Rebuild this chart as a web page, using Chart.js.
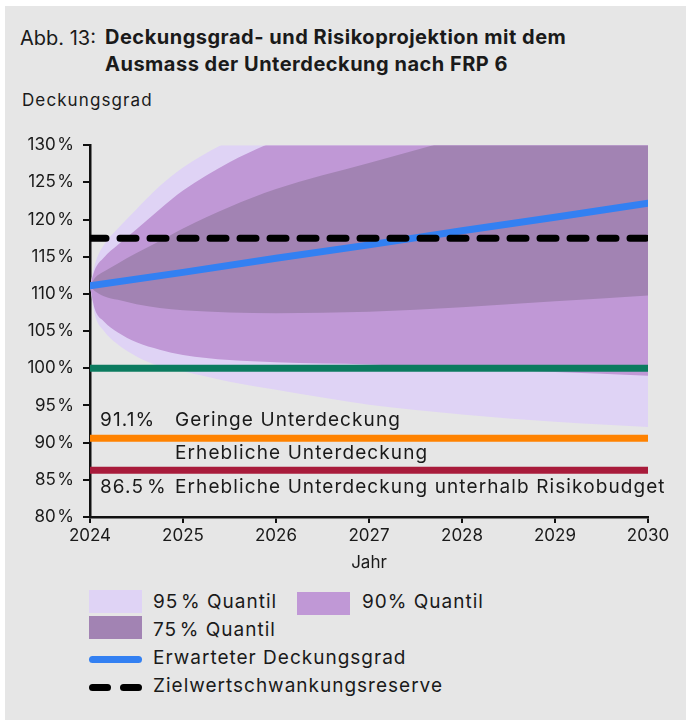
<!DOCTYPE html>
<html lang="de">
<head>
<meta charset="utf-8">
<title>Deckungsgrad- und Risikoprojektion</title>
<script src="https://cdn.jsdelivr.net/npm/chart.js@4.4.1/dist/chart.umd.min.js"></script>
<style>
    body { margin: 0; background: #ffffff; font-family: Inter, "Noto Sans", sans-serif; color: #1a1a1a; }
    #frame { position: absolute; left: 5px; top: 6px; width: 681px; height: 714px; background: #e6e6e6; overflow: hidden; }
    .t-prefix { position: absolute; left: 15px; top: 18px; font-size: 20px; line-height: 28px; }
    .t-main { position: absolute; left: 100px; top: 18px; font-size: 20px; line-height: 27px; font-weight: 700; letter-spacing: 0.5px; }
    .y-title { position: absolute; left: 17px; top: 83px; font-size: 17px; line-height: 22px; letter-spacing: 1.1px; }
    #chartBox { position: absolute; left: 0; top: 120px; width: 681px; height: 460px; }
    .sw { position: absolute; width: 53px; height: 23px; }
    .lg { position: absolute; font-size: 19px; line-height: 24px; white-space: nowrap; letter-spacing: 1px; }
    .ln { position: absolute; height: 7px; border-radius: 4px; }
</style>
</head>
<body>
<div id="frame">
    <div class="t-prefix">Abb. 13:</div>
    <div class="t-main">Deckungsgrad- und Risikoprojektion mit dem<br>Ausmass der Unterdeckung nach FRP 6</div>
    <div class="y-title">Deckungsgrad</div>
    <div id="chartBox"><canvas id="chart"></canvas></div>
    <div id="legend"></div>
</div>
<script>
const years = [2024, 2024.05, 2024.15, 2024.3, 2024.5, 2024.75, 2025, 2025.5, 2026, 2027, 2028, 2029, 2030];

const q95Upper = [111, 113.9, 116.6, 118.8, 121.4, 124.5, 127.0, 130.6, 133.5, 138, 142, 145, 148];
const q95Lower = [111, 107.3, 105.0, 103.2, 101.6, 100.3, 99.6, 98.2, 97.1, 95.1, 93.8, 92.8, 92.1];
const q90Upper = [111, 113.2, 114.9, 116.6, 118.7, 121.4, 123.9, 127.7, 130.6, 135, 138.5, 141.5, 144];
const q90Lower = [111, 108.0, 106.3, 104.8, 103.5, 102.5, 101.8, 101.1, 100.8, 100.5, 100.0, 99.5, 99.0];
const q75Upper = [111, 112.1, 113.0, 114.1, 115.5, 117.1, 118.8, 121.7, 124.1, 127.6, 131, 133.8, 136.5];
const q75Lower = [111, 110.4, 109.7, 109.2, 108.6, 108.1, 107.8, 107.5, 107.4, 107.6, 108.2, 109.0, 109.8];

const expectedYears = [2024, 2025, 2026, 2027, 2028, 2029, 2030];
const expected = [111.1, 112.9, 114.8, 116.6, 118.5, 120.3, 122.2];

const lineYears = [2024, 2030];
const targetReserve = 117.5;
const fullCoverage = 100;
const lowDeficit = 90.6;
const riskBudget = 86.3;

const yTicks = [80, 85, 90, 95, 100, 105, 110, 115, 120, 125, 130];
const xTicks = [2024, 2025, 2026, 2027, 2028, 2029, 2030];

const zoneLabels = [
    { level: 93.0, pct: "91.1%", text: "Geringe Unterdeckung" },
    { level: 88.6, pct: "", text: "Erhebliche Unterdeckung" },
    { level: 84.0, pct: "86.5\u200A%", text: "Erhebliche Unterdeckung unterhalb Risikobudget" }
];

const colors = {
    q95: "#dfd3f5",
    q90: "#c098d6",
    q75: "#a283b3",
    expected: "#3380f2",
    target: "#000000",
    full: "#0b7b5f",
    low: "#ff8200",
    risk: "#a81b3b"
};

function pts(xs, ys) {
    return xs.map((x, i) => ({ x, y: ys[i] }));
}

function flat(value) {
    return lineYears.map((x) => ({ x, y: value }));
}

function band(upper, lower, color, order) {
    return [
        {
            data: pts(years, upper),
            backgroundColor: color,
            borderWidth: 0,
            pointRadius: 0,
            cubicInterpolationMode: "monotone",
            fill: "+1",
            order
        },
        {
            data: pts(years, lower),
            borderWidth: 0,
            pointRadius: 0,
            cubicInterpolationMode: "monotone",
            fill: false,
            order
        }
    ];
}

function refLine(data, color, order, dash) {
    return {
        data,
        borderColor: color,
        borderWidth: 7,
        borderCapStyle: "round",
        borderDash: dash || [],
        pointRadius: 0,
        fill: false,
        order
    };
}

const zoneText = {
    id: "zoneText",
    afterDatasetsDraw(chart) {
        const { ctx, chartArea, scales } = chart;
        ctx.save();
        ctx.font = "19px Inter, 'Noto Sans', sans-serif";
        ctx.letterSpacing = "1.1px";
        ctx.fillStyle = "#1a1a1a";
        ctx.textBaseline = "middle";
        zoneLabels.forEach((item) => {
            const y = scales.y.getPixelForValue(item.level);
            if (item.pct) {
                ctx.fillText(item.pct, chartArea.left + 10, y);
            }
            ctx.fillText(item.text, chartArea.left + 85, y);
        });
        ctx.restore();
    }
};

Chart.defaults.font.family = "Inter, 'Noto Sans', sans-serif";
Chart.defaults.color = "#1a1a1a";

const chart = new Chart(document.getElementById("chart"), {
    type: "line",
    data: {
        datasets: [
            refLine(flat(targetReserve), colors.target, 0, [16, 14]),
            refLine(pts(expectedYears, expected), colors.expected, 1),
            refLine(flat(fullCoverage), colors.full, 2),
            refLine(flat(lowDeficit), colors.low, 2),
            refLine(flat(riskBudget), colors.risk, 2),
            ...band(q75Upper, q75Lower, colors.q75, 3),
            ...band(q90Upper, q90Lower, colors.q90, 4),
            ...band(q95Upper, q95Lower, colors.q95, 5)
        ]
    },
    options: {
        responsive: true,
        maintainAspectRatio: false,
        animation: false,
        layout: { padding: { top: 19, right: 38, left: 0, bottom: 0 } },
        plugins: {
            legend: { display: false },
            tooltip: { enabled: false }
        },
        scales: {
            x: {
                type: "linear",
                min: 2024,
                max: 2030,
                afterFit: (scale) => { scale.height = 69; },
                afterBuildTicks: (scale) => { scale.ticks = xTicks.map((v) => ({ value: v })); },
                border: { display: true, color: "#111111", width: 2.5 },
                grid: { drawOnChartArea: false, drawTicks: true, tickLength: 6, color: "#111111", lineWidth: 2 },
                ticks: {
                    padding: 3,
                    font: { size: 17 },
                    color: "#1a1a1a",
                    callback: (value) => String(value)
                },
                title: {
                    display: true,
                    text: "Jahr",
                    font: { size: 17 },
                    color: "#1a1a1a",
                    padding: { top: 0, bottom: 13 }
                }
            },
            y: {
                min: 80,
                max: 130,
                afterFit: (scale) => { scale.width = 85; },
                afterBuildTicks: (scale) => { scale.ticks = yTicks.map((v) => ({ value: v })); },
                border: { display: true, color: "#111111", width: 2.5 },
                grid: { drawOnChartArea: false, drawTicks: true, tickLength: 7, color: "#111111", lineWidth: 2 },
                ticks: {
                    padding: 9,
                    font: { size: 17 },
                    color: "#1a1a1a",
                    callback: (value) => value + "\u200A%"
                }
            }
        }
    },
    plugins: [zoneText]
});

function buildLegend() {
    const legend = document.getElementById("legend");
    const items = [
        { kind: "sw", color: colors.q95, x: 84, y: 584, tx: 148, ty: 584, label: "95\u200A% Quantil" },
        { kind: "sw", color: colors.q90, x: 292, y: 586, tx: 357, ty: 584, label: "90% Quantil" },
        { kind: "sw", color: colors.q75, x: 84, y: 610, tx: 148, ty: 612, label: "75\u200A% Quantil" },
        { kind: "line", color: colors.expected, x: 84, y: 650, tx: 148, ty: 640, label: "Erwarteter Deckungsgrad" },
        { kind: "dash", color: colors.target, x: 84, y: 678, tx: 148, ty: 668, label: "Zielwertschwankungsreserve" }
    ];
    items.forEach((item) => {
        if (item.kind === "sw") {
            const sw = document.createElement("div");
            sw.className = "sw";
            sw.style.left = item.x + "px";
            sw.style.top = item.y + "px";
            sw.style.background = item.color;
            legend.appendChild(sw);
        } else if (item.kind === "line") {
            const ln = document.createElement("div");
            ln.className = "ln";
            ln.style.left = item.x + "px";
            ln.style.top = item.y + "px";
            ln.style.width = "53px";
            ln.style.background = item.color;
            legend.appendChild(ln);
        } else {
            [0, 31].forEach((dx) => {
                const ln = document.createElement("div");
                ln.className = "ln";
                ln.style.left = (item.x + dx) + "px";
                ln.style.top = item.y + "px";
                ln.style.width = "22px";
                ln.style.background = item.color;
                legend.appendChild(ln);
            });
        }
        const text = document.createElement("div");
        text.className = "lg";
        text.style.left = item.tx + "px";
        text.style.top = item.ty + "px";
        text.textContent = item.label;
        legend.appendChild(text);
    });
}

buildLegend();
</script>
</body>
</html>
